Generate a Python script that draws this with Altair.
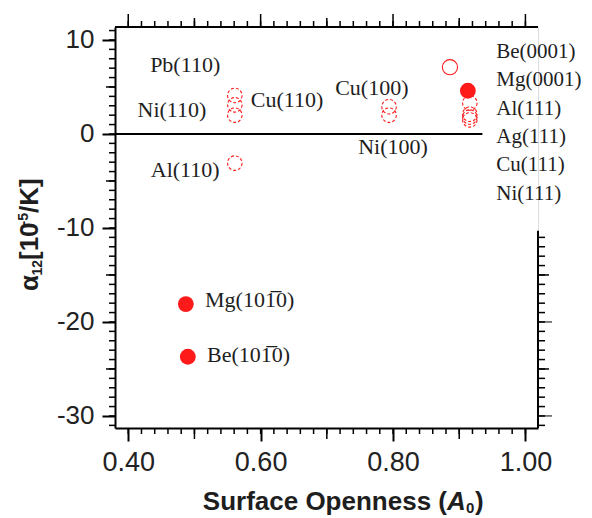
import altair as alt
import pandas as pd

# ---- data ----
surfaces = ["Pb(110)", "Ni(110)", "Cu(110)", "Al(110)", "Cu(100)", "Ni(100)",
            "Be(0001)", "Mg(0001)", "Al(111)", "Ag(111)", "Cu(111)", "Ni(111)",
            "Mg(10-10)", "Be(10-10)"]
openness = [0.561, 0.561, 0.561, 0.561, 0.794, 0.794,
            0.886, 0.913, 0.916, 0.916, 0.916, 0.916,
            0.487, 0.490]
alpha12 = [4.1, 3.1, 2.0, -3.1, 2.9, 2.0,
           7.1, 4.6, 3.3, 2.1, 1.8, 1.5,
           -18.1, -23.7]
style = ["dashed", "dashed", "dashed", "dashed", "dashed", "dashed",
         "solid", "filled", "dashed", "dashed", "dashed", "dashed",
         "filled", "filled"]

label_text = ["Pb(110)", "Ni(110)", "Cu(110)", "Al(110)", "Cu(100)", "Ni(100)",
              "Be(0001)", "Mg(0001)", "Al(111)", "Ag(111)", "Cu(111)", "Ni(111)",
              "Mg(101\u03050)", "Be(101\u03050)"]
label_x = [0.486, 0.466, 0.640, 0.486, 0.768, 0.800,
           0.956, 0.956, 0.956, 0.956, 0.956, 0.956,
           0.516, 0.519]
label_y = [7.3, 2.55, 3.6, -3.8, 4.9, -1.4,
           8.7, 5.7, 2.7, -0.3, -3.3, -6.4,
           -17.7, -23.5]
label_group = ["center"] * 6 + ["right"] * 6 + ["left"] * 2

x_major = [0.40, 0.60, 0.80, 1.00]
x_mid = [0.50, 0.70, 0.90]
x_minor = [round(0.40 + 0.02 * i, 2) for i in range(31)]
y_major = [-30, -20, -10, 0, 10]
y_mid = [-25, -15, -5, 5]
y_minor = list(range(-31, 12))
right_major = [-30, -20]
right_mid = [-25, -15]
right_minor = list(range(-31, -10))

# title pieces
ytitle_parts = ["\u03b1", "12", "[10", "-5", "/K]"]
xtitle_parts = ["Surface Openness (", "A", "0", ")"]

X_DOMAIN = [0.38, 1.019]
Y_DOMAIN = [-31.28, 11.38]
W, H = 423, 401
RED = "#ff1a1a"
INK = "#1e1e1e"

pts = pd.DataFrame({"surface": surfaces, "A0": openness, "alpha": alpha12, "style": style})
labs = pd.DataFrame({"text": label_text, "x": label_x, "y": label_y, "group": label_group})

xs = alt.Scale(domain=X_DOMAIN, nice=False, zero=False)
ys = alt.Scale(domain=Y_DOMAIN, nice=False, zero=False)

xaxis = alt.Axis(values=x_major, format=".2f", tickSize=13, tickWidth=2, tickColor="black",
                 domainColor="black", domainWidth=2, labelFont="Liberation Sans",
                 labelFontSize=27, labelColor="#222", labelPadding=8, grid=False, title="")
yaxis = alt.Axis(values=y_major, tickSize=13, tickWidth=2, tickColor="black",
                 domainColor="black", domainWidth=2, labelFont="Liberation Sans",
                 labelFontSize=26, labelColor="#222", labelPadding=8, grid=False, title="",
                 labelExpr="'' + datum.value")

base = alt.Chart(pts)

# zero line
zero = alt.Chart(pd.DataFrame({"x": [X_DOMAIN[0]], "x2": [0.935], "y": [0]})).mark_rule(
    color="black", strokeWidth=2).encode(
    x=alt.X("x:Q", scale=xs, axis=xaxis), x2="x2:Q",
    y=alt.Y("y:Q", scale=ys, axis=yaxis))

dashed = base.transform_filter(alt.datum.style == "dashed").mark_point(
    shape="circle", size=210, filled=False, color=RED, strokeWidth=1.1,
    strokeDash=[3, 2], opacity=1).encode(x=alt.X("A0:Q", scale=xs), y=alt.Y("alpha:Q", scale=ys))
solid = base.transform_filter(alt.datum.style == "solid").mark_point(
    shape="circle", size=230, filled=False, color=RED, strokeWidth=1.1, opacity=1).encode(
    x=alt.X("A0:Q", scale=xs), y=alt.Y("alpha:Q", scale=ys))
filled = base.transform_filter(alt.datum.style == "filled").mark_point(
    shape="circle", size=250, filled=True, color=RED, opacity=1).encode(
    x=alt.X("A0:Q", scale=xs), y=alt.Y("alpha:Q", scale=ys))

def text_layer(group, align, size):
    return alt.Chart(labs).transform_filter(alt.datum.group == group).mark_text(
        font="Liberation Serif", fontSize=size, color=INK, align=align,
        baseline="middle").encode(x=alt.X("x:Q", scale=xs), y=alt.Y("y:Q", scale=ys), text="text:N")

def xticks(vals, y0, length, width=1.5):
    return alt.Chart(pd.DataFrame({"v": vals})).mark_rule(color="black", strokeWidth=width).encode(
        x=alt.X("v:Q", scale=xs), y=alt.value(y0), y2=alt.value(y0 + length))

def yticks(vals, x0, length, width=1.5):
    return alt.Chart(pd.DataFrame({"v": vals})).mark_rule(color="black", strokeWidth=width).encode(
        y=alt.Y("v:Q", scale=ys), x=alt.value(x0), x2=alt.value(x0 + length))

one = pd.DataFrame({"a": [0]})

def title_piece(text, px, py, size, angle=0, align="left", italic=False):
    kw = dict(font="Liberation Sans", fontWeight="bold", fontSize=size, color=INK,
              align=align, baseline="alphabetic", text=text)
    if angle:
        kw["angle"] = angle
    if italic:
        kw["fontStyle"] = "italic"
    return alt.Chart(one).mark_text(**kw).encode(x=alt.value(px), y=alt.value(py))

# y-axis title assembled from pieces (rotated)
ytitle = [
    title_piece(ytitle_parts[0], -77, 264, 26, 270),
    title_piece(ytitle_parts[1], -73, 248.5, 14, 270),
    title_piece(ytitle_parts[2], -77, 233, 26, 270),
    title_piece(ytitle_parts[3], -87, 198.5, 14, 270),
    title_piece(ytitle_parts[4], -77, 186, 26, 270),
]
# x-axis title assembled from pieces
TB = 482.5
xtitle = [
    title_piece(xtitle_parts[0], 332, TB, 26, align="right"),
    title_piece(xtitle_parts[1], 332, TB, 26, italic=True),
    title_piece(xtitle_parts[2], 351, TB + 3, 15),
    title_piece(xtitle_parts[3], 360, TB, 26),
]

frame_top = alt.Chart(one).mark_rule(color="black", strokeWidth=2).encode(
    x=alt.value(0), x2=alt.value(W), y=alt.value(0))
frame_right = alt.Chart(pd.DataFrame({"y": [-10.3], "y2": [Y_DOMAIN[0]]})).mark_rule(
    color="black", strokeWidth=2).encode(
    x=alt.value(W), y=alt.Y("y:Q", scale=ys), y2="y2:Q")

layers = [
    zero,
    frame_top, frame_right,
    xticks(x_minor, H, 6), xticks(x_mid, H, 11),
    xticks(x_minor, 0, -6), xticks(x_mid, 0, -9), xticks(x_major, 0, -13),
    yticks(y_minor, 0, -6), yticks(y_mid, 0, -9),
    yticks(right_minor, W, 7), yticks(right_mid, W, 11), yticks(right_major, W, 14, 1),
    dashed, solid, filled,
    text_layer("center", "center", 22), text_layer("right", "left", 21),
    text_layer("left", "left", 22),
] + ytitle + xtitle

chart = alt.layer(*layers).properties(
    width=W, height=H,
    autosize=alt.AutoSizeParams(type="none"),
    padding={"left": 107, "top": 19, "right": 46, "bottom": 88},
).configure_view(stroke="transparent").configure(background="white")

chart.save("out.html", embed_options={"renderer": "svg", "actions": False})
